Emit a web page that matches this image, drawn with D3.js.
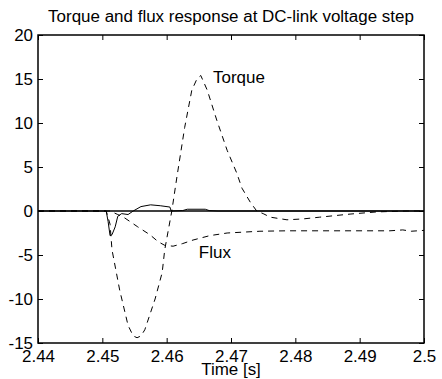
<!DOCTYPE html>
<html>
<head>
<meta charset="utf-8">
<script src="https://cdn.jsdelivr.net/npm/d3@7"></script>
<style>
  body { margin: 0; background: #fff; }
  svg text { font-family: "Liberation Sans", Arial, sans-serif; fill: #000; }
</style>
</head>
<body>
<svg id="chart"></svg>
<script>
// values
const xTicks = [2.44, 2.45, 2.46, 2.47, 2.48, 2.49, 2.5];
const xTickLabels = ["2.44", "2.45", "2.46", "2.47", "2.48", "2.49", "2.5"];
const yTicks = [-15, -10, -5, 0, 5, 10, 15, 20];
const yTickLabels = ["-15", "-10", "-5", "0", "5", "10", "15", "20"];

// torque (dashed)
const torque = [
  [2.44, 0], [2.4506, 0], [2.4512, -1.5], [2.4515, -4.4], [2.4527, -9], [2.4540, -13],
  [2.4548, -14.2], [2.4554, -14.4], [2.4560, -14.2], [2.4566, -13.5], [2.4582, -10],
  [2.4593, -7], [2.4597, -4.4], [2.4608, 0], [2.4616, 3.9], [2.4628, 9.5],
  [2.4639, 13.7], [2.4647, 15], [2.4653, 15.4], [2.4663, 13.75], [2.4678, 10.3],
  [2.4694, 6.9], [2.4709, 4.3], [2.4717, 2.6], [2.4730, 1.0], [2.4740, 0],
  [2.4750, -0.3], [2.4761, -0.7], [2.4787, -1.0], [2.4812, -0.9], [2.4838, -0.7],
  [2.4885, -0.35], [2.4927, -0.1], [2.4974, 0], [2.5, 0]
];

// flux (dashed)
const flux = [
  [2.44, 0], [2.4512, 0], [2.4524, -0.4], [2.4535, -0.8], [2.4555, -1.8],
  [2.4574, -2.7], [2.4587, -3.5], [2.4597, -3.9], [2.4610, -4.0], [2.4625, -3.7],
  [2.4641, -3.3], [2.4667, -2.8], [2.4694, -2.5], [2.4719, -2.4], [2.4745, -2.3],
  [2.4787, -2.25], [2.4843, -2.25], [2.4947, -2.25], [2.4967, -2.15], [2.4980, -2.3],
  [2.5, -2.2]
];

// estimate transient (solid)
const estimate = [
  [2.44, 0], [2.4506, 0], [2.4509, -1.2], [2.4512, -2.8], [2.4515, -2.7],
  [2.4520, -1.8], [2.4524, -0.6], [2.4530, -0.3], [2.4540, -0.4], [2.4548, 0],
  [2.4560, 0.5], [2.4575, 0.7], [2.4590, 0.6], [2.4605, 0.45], [2.4607, 0],
  [2.4625, 0.05], [2.4632, 0.2], [2.4660, 0.2], [2.4666, 0.05], [2.468, 0], [2.5, 0]
];

// reference (solid)
const reference = [[2.44, 0], [2.5, 0]];

const labels = [
  { text: "Torque", t: 2.4672, v: 14.55 },
  { text: "Flux", t: 2.4650, v: -5.3 }
];

const W = 442, H = 379;
const margin = { top: 35, right: 18, bottom: 36, left: 38 };
const width = W - margin.left - margin.right;
const height = H - margin.top - margin.bottom;
const fontSize = 16;
const stretch = 1.06;

const svg = d3.select("#chart").attr("width", W).attr("height", H);
const g = svg.append("g").attr("transform", `translate(${margin.left},${margin.top})`);

const x = d3.scaleLinear().domain([2.44, 2.5]).range([0, width]);
const y = d3.scaleLinear().domain([-15, 20]).range([height, 0]);

function widen(sel) {
  sel.each(function () {
    const w = this.getComputedTextLength();
    d3.select(this).attr("textLength", w * stretch).attr("lengthAdjust", "spacingAndGlyphs");
  });
}

const line = d3.line().x(d => x(d[0])).y(d => y(d[1]));

g.append("path").datum(reference)
  .attr("d", line).attr("fill", "none").attr("stroke", "#000").attr("stroke-width", 1.6);
g.append("path").datum(estimate)
  .attr("d", line).attr("fill", "none").attr("stroke", "#000").attr("stroke-width", 1);
g.append("path").datum(torque)
  .attr("d", line).attr("fill", "none").attr("stroke", "#000").attr("stroke-width", 1)
  .attr("stroke-dasharray", "6,5");
g.append("path").datum(flux)
  .attr("d", line).attr("fill", "none").attr("stroke", "#000").attr("stroke-width", 1)
  .attr("stroke-dasharray", "6,5");

// axes, ticks pointing inward like matlab
const xAxis = g.append("g").attr("transform", `translate(0,${height})`)
  .call(d3.axisBottom(x).tickValues(xTicks).tickSizeInner(-5).tickSizeOuter(0).tickPadding(8)
    .tickFormat((d, i) => xTickLabels[i]));
const yAxis = g.append("g")
  .call(d3.axisLeft(y).tickValues(yTicks).tickSizeInner(-5).tickSizeOuter(0).tickPadding(5)
    .tickFormat((d, i) => yTickLabels[i]));
g.append("g")
  .call(d3.axisTop(x).tickValues(xTicks).tickSizeInner(-5).tickSizeOuter(0).tickFormat(""));
g.append("g").attr("transform", `translate(${width},0)`)
  .call(d3.axisRight(y).tickValues(yTicks).tickSizeInner(-5).tickSizeOuter(0).tickFormat(""));

g.selectAll(".domain").remove();
g.selectAll(".tick line").attr("stroke", "#000").attr("stroke-width", 1);
g.selectAll(".tick text").style("font-size", fontSize + "px").attr("font-family", null);
widen(xAxis.selectAll(".tick text"));
widen(yAxis.selectAll(".tick text"));

g.append("rect").attr("width", width).attr("height", height)
  .attr("fill", "none").attr("stroke", "#000").attr("stroke-width", 1.5);

g.selectAll(".lbl").data(labels).enter().append("text")
  .attr("class", "lbl")
  .attr("x", d => x(d.t)).attr("y", d => y(d.v))
  .style("font-size", fontSize + "px")
  .text(d => d.text)
  .call(widen);

svg.append("text")
  .attr("x", margin.left + width / 2).attr("y", 22)
  .attr("text-anchor", "middle").style("font-size", fontSize + "px")
  .text("Torque and flux response at DC-link voltage step")
  .call(widen);

svg.append("text")
  .attr("x", margin.left + width / 2).attr("y", 375)
  .attr("text-anchor", "middle").style("font-size", fontSize + "px")
  .text("Time [s]")
  .call(widen);
</script>
</body>
</html>
